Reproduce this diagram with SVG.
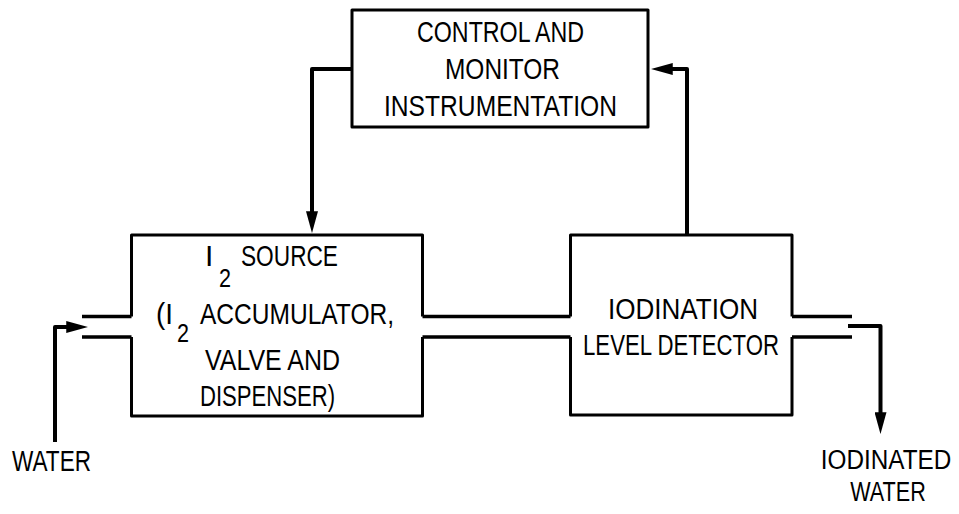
<svg xmlns="http://www.w3.org/2000/svg" width="959" height="514" viewBox="0 0 959 514">
  <style>
    .box { fill: none; stroke: #000; stroke-width: 3; stroke-linejoin: round; }
    .pipe { fill: none; stroke: #000; stroke-width: 3.4; stroke-linecap: butt; }
    .flow { fill: none; stroke: #000; stroke-width: 4; stroke-linejoin: round; }
    .t { font-family: "Liberation Sans", Arial, sans-serif; font-size: 30px; fill: #000; }
    .sub { font-size: 26px; }
    .lbl { font-size: 27px; }
  </style>
  <defs>
    <marker id="head" markerUnits="userSpaceOnUse" markerWidth="22" markerHeight="12" viewBox="0 0 20 11" refX="8" refY="5.5" orient="auto">
      <path d="M0,0 L20,5.5 L0,11 z" fill="#000"/>
    </marker>
  </defs>

  <!-- Control and monitor instrumentation -->
  <g id="control">
    <rect class="box" x="352" y="10" width="296" height="117"/>
    <text class="t" x="417" y="42" textLength="167" lengthAdjust="spacingAndGlyphs">CONTROL AND</text>
    <text class="t" x="445" y="79" textLength="115" lengthAdjust="spacingAndGlyphs">MONITOR</text>
    <text class="t" x="384" y="116" textLength="233" lengthAdjust="spacingAndGlyphs">INSTRUMENTATION</text>
  </g>

  <!-- I2 source (accumulator, valve and dispenser) -->
  <g id="source">
    <path class="box" d="M131.5,316.5 V235 H422.5 V316.5 M131.5,337 V416 H422.5 V337"/>
    <text class="t" x="205" y="266">I</text>
    <text class="t sub" x="219" y="287" textLength="12" lengthAdjust="spacingAndGlyphs">2</text>
    <text class="t" x="241" y="266" textLength="97" lengthAdjust="spacingAndGlyphs">SOURCE</text>
    <text class="t" x="156" y="324" textLength="17" lengthAdjust="spacingAndGlyphs">(I</text>
    <text class="t sub" x="177" y="342" textLength="12" lengthAdjust="spacingAndGlyphs">2</text>
    <text class="t" x="200" y="324" textLength="194" lengthAdjust="spacingAndGlyphs">ACCUMULATOR,</text>
    <text class="t" x="205" y="370" textLength="135" lengthAdjust="spacingAndGlyphs">VALVE AND</text>
    <text class="t" x="200" y="406" textLength="135" lengthAdjust="spacingAndGlyphs">DISPENSER)</text>
  </g>

  <!-- Iodination level detector -->
  <g id="detector">
    <path class="box" d="M570.5,316.5 V235 H792 V316.5 M570.5,337 V415 H792 V337"/>
    <text class="t" x="608" y="319" textLength="150" lengthAdjust="spacingAndGlyphs">IODINATION</text>
    <text class="t" x="583" y="355" textLength="196" lengthAdjust="spacingAndGlyphs">LEVEL DETECTOR</text>
  </g>

  <!-- Inlet / outlet labels -->
  <g id="water-in">
    <text class="t" x="12" y="471" textLength="79" lengthAdjust="spacingAndGlyphs">WATER</text>
  </g>
  <g id="water-out">
    <text class="t lbl" text-anchor="middle" transform="translate(886,469) scale(0.9,1)">IODINATED</text>
    <text class="t lbl" text-anchor="middle" transform="translate(888,501) scale(0.8,1)">WATER</text>
  </g>

  <!-- Connectors: water pipes and signal lines -->
  <g id="connectors">
    <path class="pipe" d="M82,316.5 H131.5 M82,337 H131.5"/>
    <path class="pipe" d="M422.5,316.5 H570.5 M422.5,337 H570.5"/>
    <path class="pipe" d="M792,316.5 H852 M792,337 H852"/>
    <path class="flow" d="M351,69 H312 V220" marker-end="url(#head)"/>
    <path class="flow" d="M687,235 V69 H664" marker-end="url(#head)"/>
    <path class="flow" d="M55,442 V327 H75" marker-end="url(#head)"/>
    <path class="flow" d="M848,326 H880.5 V421" marker-end="url(#head)"/>
  </g>
</svg>
